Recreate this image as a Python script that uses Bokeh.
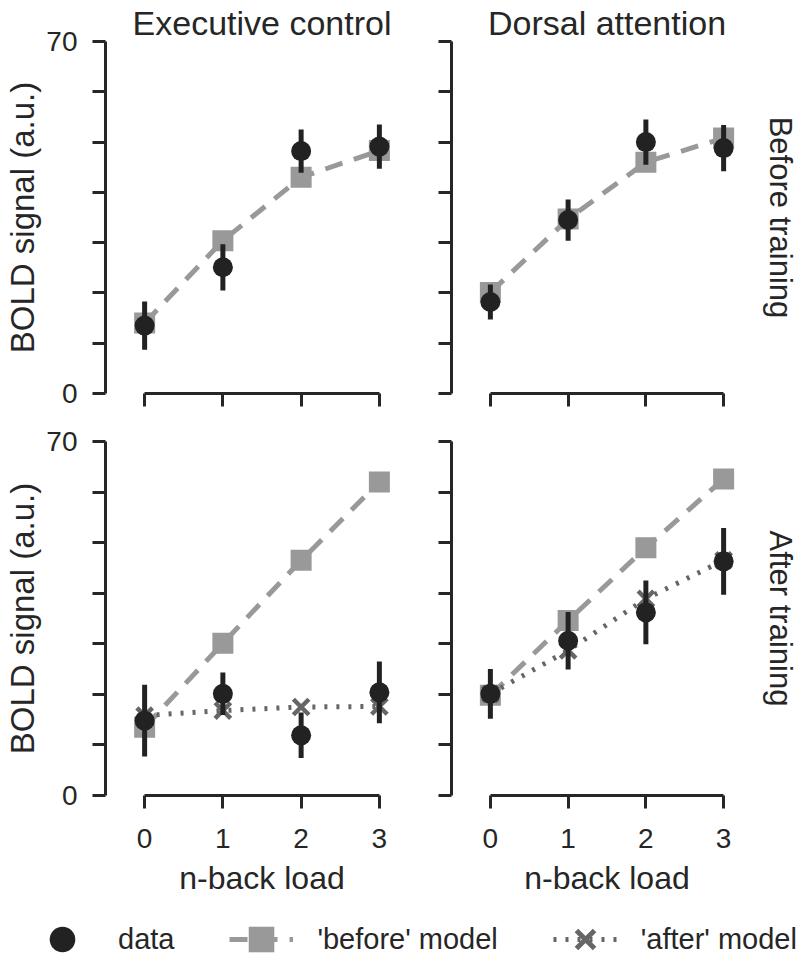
import numpy as np
from bokeh.plotting import figure
from bokeh.layouts import column, row
from bokeh.models import Legend, LegendItem, FixedTicker, Range1d, Title
from bokeh.embed import file_html
from bokeh.resources import INLINE

# ---------------- data ----------------
loads = [0, 1, 2, 3]
y_ticks = [0, 10, 20, 30, 40, 50, 60, 70]
col_titles = ["Executive control", "Dorsal attention"]
row_titles = ["Before training", "After training"]
y_label = "BOLD signal (a.u.)"
x_label = "n-back load"
legend_labels = ["data", "'before' model", "'after' model"]

exec_before_data = [13.5, 25.1, 48.2, 49.1]
exec_before_err = [4.8, 4.6, 4.3, 4.4]
exec_before_model = [14.0, 30.4, 43.0, 48.3]

dors_before_data = [18.2, 34.5, 50.0, 48.8]
dors_before_err = [3.5, 4.1, 4.5, 4.6]
dors_before_model = [20.1, 34.7, 46.0, 50.8]

exec_after_data = [14.8, 20.1, 11.9, 20.4]
exec_after_err = [7.1, 4.2, 4.5, 6.1]
exec_after_before_model = [13.5, 30.1, 46.5, 62.0]
exec_after_after_model = [15.8, 16.8, 17.5, 17.6]

dors_after_data = [20.1, 30.6, 36.2, 46.3]
dors_after_err = [4.9, 5.7, 6.3, 6.6]
dors_after_before_model = [19.8, 34.6, 49.0, 62.6]
dors_after_after_model = [20.1, 28.7, 38.9, 46.5]

# ---------------- style ----------------
FONT = "Liberation Sans"
INK = "#262626"
DATA_C = "#222222"
BEFORE_C = "#999999"
AFTER_C = "#666666"


def style_axis(ax):
    ax.axis_line_width = 3
    ax.axis_line_color = INK
    ax.major_tick_line_width = 3
    ax.major_tick_line_color = INK
    ax.major_tick_out = 13
    ax.major_tick_in = 0
    ax.minor_tick_line_color = None
    ax.major_label_text_font = FONT
    ax.major_label_text_font_size = "28px"
    ax.major_label_text_color = INK


def make_panel(col, rw, data, err, before, after):
    left = col == 0
    bottom = rw == 1
    p = figure(
        frame_width=313 if left else 311,
        frame_height=352 if rw == 0 else 354,
        min_border_left=105 if left else 17,
        min_border_right=16 if left else 38,
        min_border_top=41 if rw == 0 else 20,
        min_border_bottom=28 if rw == 0 else 112,
        x_range=Range1d(-0.5, 3.5),
        y_range=Range1d(0, 70),
        output_backend="svg",
        toolbar_location=None,
    )
    p.xgrid.visible = False
    p.ygrid.visible = False
    p.outline_line_color = None
    p.background_fill_color = "white"
    p.border_fill_color = "white"

    xa = p.xaxis[0]
    ya = p.yaxis[0]
    style_axis(xa)
    style_axis(ya)
    xa.ticker = FixedTicker(ticks=loads)
    xa.bounds = (0, 3)
    ya.ticker = FixedTicker(ticks=y_ticks)
    ya.bounds = (0, 70)
    ya.major_label_overrides = {t: "" for t in y_ticks[1:-1]}
    ya.major_label_standoff = 15
    if left:
        ya.axis_label = y_label
        ya.axis_label_text_font = FONT
        ya.axis_label_text_font_size = "33px"
        ya.axis_label_text_font_style = "normal"
        ya.axis_label_text_color = INK
        ya.axis_label_standoff = 2
    else:
        ya.major_label_overrides = {t: "" for t in y_ticks}
        ya.major_label_text_font_size = "0px"
        ya.major_label_standoff = 0
    if not bottom:
        xa.major_label_overrides = {t: "" for t in loads}
        xa.major_label_text_font_size = "0px"
        xa.major_label_standoff = 0
    else:
        xa.major_label_standoff = 20
        xa.axis_label = x_label
        xa.axis_label_text_font = FONT
        xa.axis_label_text_font_size = "32px"
        xa.axis_label_text_font_style = "normal"
        xa.axis_label_text_color = INK
        xa.axis_label_standoff = 9

    if rw == 0:
        p.title.text = col_titles[col]
        p.title.align = "center"
        p.title.text_font = FONT
        p.title.text_font_size = "34px"
        p.title.text_font_style = "normal"
        p.title.text_color = INK
        p.title.standoff = 0
    if not left:
        p.add_layout(Title(text=row_titles[rw], align="center", text_font=FONT,
                           text_font_size="31px", text_font_style="normal",
                           text_color=INK, standoff=0), "right")

    lo = [d - e for d, e in zip(data, err)]
    hi = [d + e for d, e in zip(data, err)]

    p.line(loads, before, line_color=BEFORE_C, line_width=5, line_dash="18 12")
    p.scatter(loads, before, marker="square", size=21, fill_color=BEFORE_C, line_color=None)
    if after is not None:
        p.line(loads, after, line_color=AFTER_C, line_width=5, line_dash="3 9")
        p.scatter(loads, after, marker="x", size=22, line_color=AFTER_C, line_width=4.5)
    p.segment(x0=loads, y0=lo, x1=loads, y1=hi, line_color=DATA_C, line_width=5)
    p.scatter(loads, data, marker="circle", size=20, fill_color=DATA_C, line_color=None)
    return p


p_tl = make_panel(0, 0, exec_before_data, exec_before_err, exec_before_model, None)
p_tr = make_panel(1, 0, dors_before_data, dors_before_err, dors_before_model, None)
p_bl = make_panel(0, 1, exec_after_data, exec_after_err, exec_after_before_model, exec_after_after_model)
p_br = make_panel(1, 1, dors_after_data, dors_after_err, dors_after_before_model, dors_after_after_model)

# ---------------- legend strip ----------------
# legend renderers reuse the data but the view range keeps the marks out of sight
lf = figure(width=800, height=47, x_range=Range1d(100, 101), y_range=Range1d(100, 101),
            toolbar_location=None, output_backend="svg", min_border=0,
            x_axis_location=None, y_axis_location=None)
lf.outline_line_color = None
lf.xgrid.visible = False
lf.ygrid.visible = False
r_data = lf.scatter(loads, exec_after_data, marker="circle", fill_color=DATA_C, line_color=None)
r_bl = lf.line(loads, exec_after_before_model, line_color=BEFORE_C, line_width=5, line_dash="18 12")
r_bs = lf.scatter(loads, exec_after_before_model, marker="square", fill_color=BEFORE_C, line_color=None)
r_al = lf.line(loads, exec_after_after_model, line_color=AFTER_C, line_width=5, line_dash="3 9")
r_ax = lf.scatter(loads, exec_after_after_model, marker="x", line_color=AFTER_C, line_width=5)
legend = Legend(
    items=[
        LegendItem(label=legend_labels[0], renderers=[r_data]),
        LegendItem(label=legend_labels[1], renderers=[r_bl, r_bs]),
        LegendItem(label=legend_labels[2], renderers=[r_al, r_ax]),
    ],
    orientation="horizontal",
    location=(30, -17),
    padding=0,
    margin=0,
    spacing=55,
    label_standoff=24,
    glyph_width=64,
    glyph_height=64,
    label_text_font=FONT,
    label_text_font_size="29px",
    label_text_color=INK,
    border_line_color=None,
    background_fill_alpha=0,
)
lf.add_layout(legend)

layout = column(row(p_tl, p_tr), row(p_bl, p_br), lf)
open("out.html", "w").write(file_html(layout, INLINE))
